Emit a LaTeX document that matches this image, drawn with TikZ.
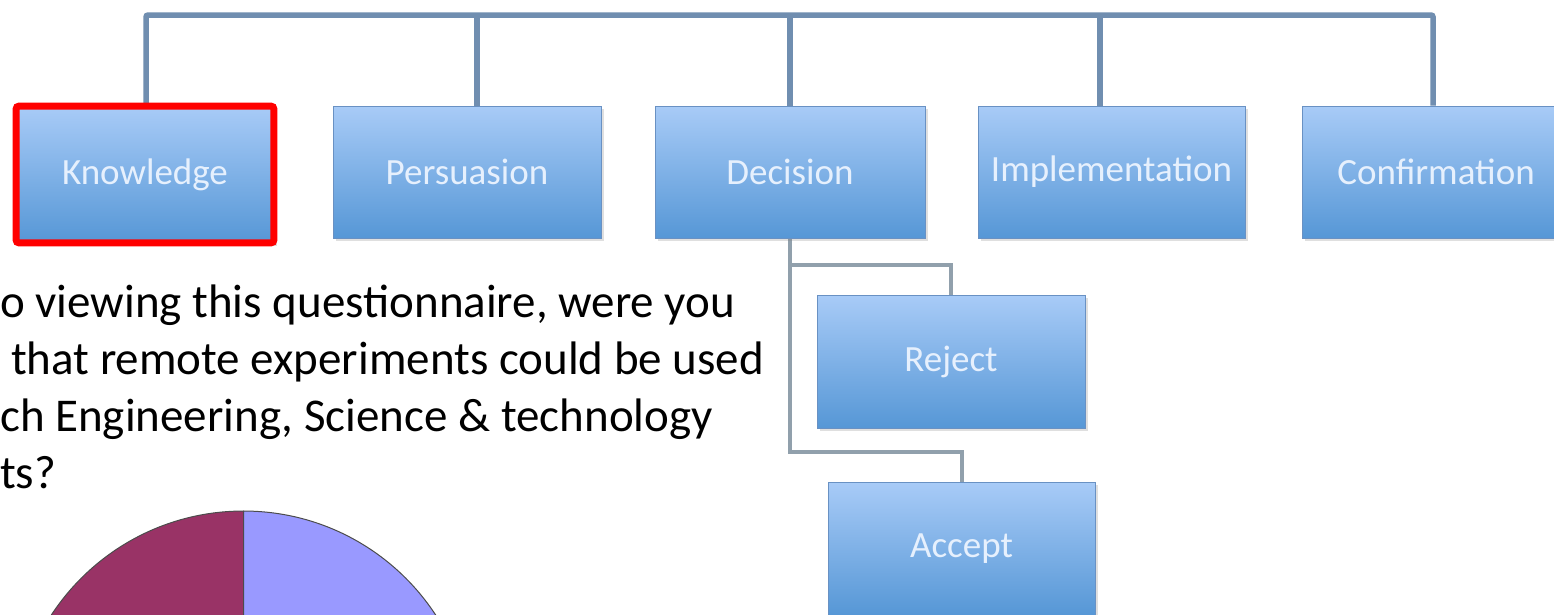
\documentclass[tikz,border=0pt]{standalone}
\usepackage{fontspec}
\setmainfont{Carlito}
\usetikzlibrary{shadows,backgrounds}
\definecolor{barc}{RGB}{112,142,176}
\definecolor{subc}{RGB}{145,160,172}
\definecolor{boxtop}{RGB}{168,203,247}
\definecolor{boxbot}{RGB}{86,151,214}
\definecolor{boxedge}{RGB}{105,145,195}
\definecolor{boxtext}{RGB}{230,240,253}
\definecolor{piemaroon}{RGB}{153,51,102}
\definecolor{pielilac}{RGB}{153,153,255}
\begin{document}
\begin{tikzpicture}[x=1pt,y=-1pt,
  stage/.style={rectangle, minimum width=268pt, minimum height=132pt, inner sep=0pt,
    top color=boxtop, bottom color=boxbot, draw=boxedge, line width=0.8pt,
    text=boxtext, font=\fontsize{37}{44}\selectfont,
    drop shadow={shadow xshift=3pt, shadow yshift=-3pt, opacity=0.25, fill=gray}},
  trunk/.style={draw=barc, line width=5.5pt, rounded corners=2pt},
  twig/.style={draw=subc, line width=4pt},
  frame/.style={draw=red, line width=7pt, rounded corners=3pt},
  question/.style={anchor=base west, inner sep=0pt, text=black, font=\fontsize{47}{57}\selectfont},
  slice/.style={draw=black!70, line width=1pt}]
\useasboundingbox (0,0) rectangle (1554,614);
\clip (0,0) rectangle (1554,614);

% top bar and junction coordinates
\coordinate (tk) at (146,15);
\coordinate (tp) at (477,15);
\coordinate (td) at (790,15);
\coordinate (ti) at (1100,15);
\coordinate (tc) at (1433,15);
\coordinate (jr) at (790,265);
\coordinate (ja) at (790,452);

% boxes
\node[stage, minimum width=257pt, minimum height=136pt] (know) at (145,174.5) {Knowledge};
\node[stage] (pers) at (467,172) {Persuasion};
\node[stage, minimum width=270pt] (dec) at (790,172) {Decision};
\node[stage, minimum width=267pt] (impl) at (1111.5,172) {Implementation};
\node[stage] (conf) at (1436,172) {Confirmation};
\node[stage, minimum height=133pt] (rej) at (951,361.5) {Reject};
\node[stage, minimum width=267pt, minimum height=133pt] (acc) at (961.5,548.5) {Accept};

\draw[frame] (know.north west) rectangle (know.south east);

% connectors, behind the boxes
\begin{scope}[on background layer]
\fill[white] (0,0) rectangle (1554,614);
\draw[trunk] (tk |- know.north) -- (tk) -- (tc) -- (tc |- conf.north);
\draw[trunk] (tp) -- (tp |- pers.north);
\draw[trunk] (td) -- (dec.north);
\draw[trunk] (ti) -- (ti |- impl.north);
\draw[twig] (dec.south) -- (ja) -- (ja -| acc.north) -- (acc.north);
\draw[twig] (jr) -- (jr -| rej.north) -- (rej.north);
\end{scope}

% question text
\node[question] (q1) at (0,317) {o viewing this questionnaire, were you};
\node[question] (q2) at (11,374) {that remote experiments could be used};
\node[question] (q3) at (0,431) {ch Engineering, Science \& technology};
\node[question] (q4) at (0,488) {ts?};

% pie chart
\coordinate (pc) at (243.5,740.5);
\filldraw[slice, fill=piemaroon] (pc) -- ++(0,-229.5) arc[start angle=270, end angle=90, radius=229.5] -- cycle;
\filldraw[slice, fill=pielilac] (pc) -- ++(0,-229.5) arc[start angle=270, end angle=450, radius=229.5] -- cycle;
\end{tikzpicture}
\end{document}
